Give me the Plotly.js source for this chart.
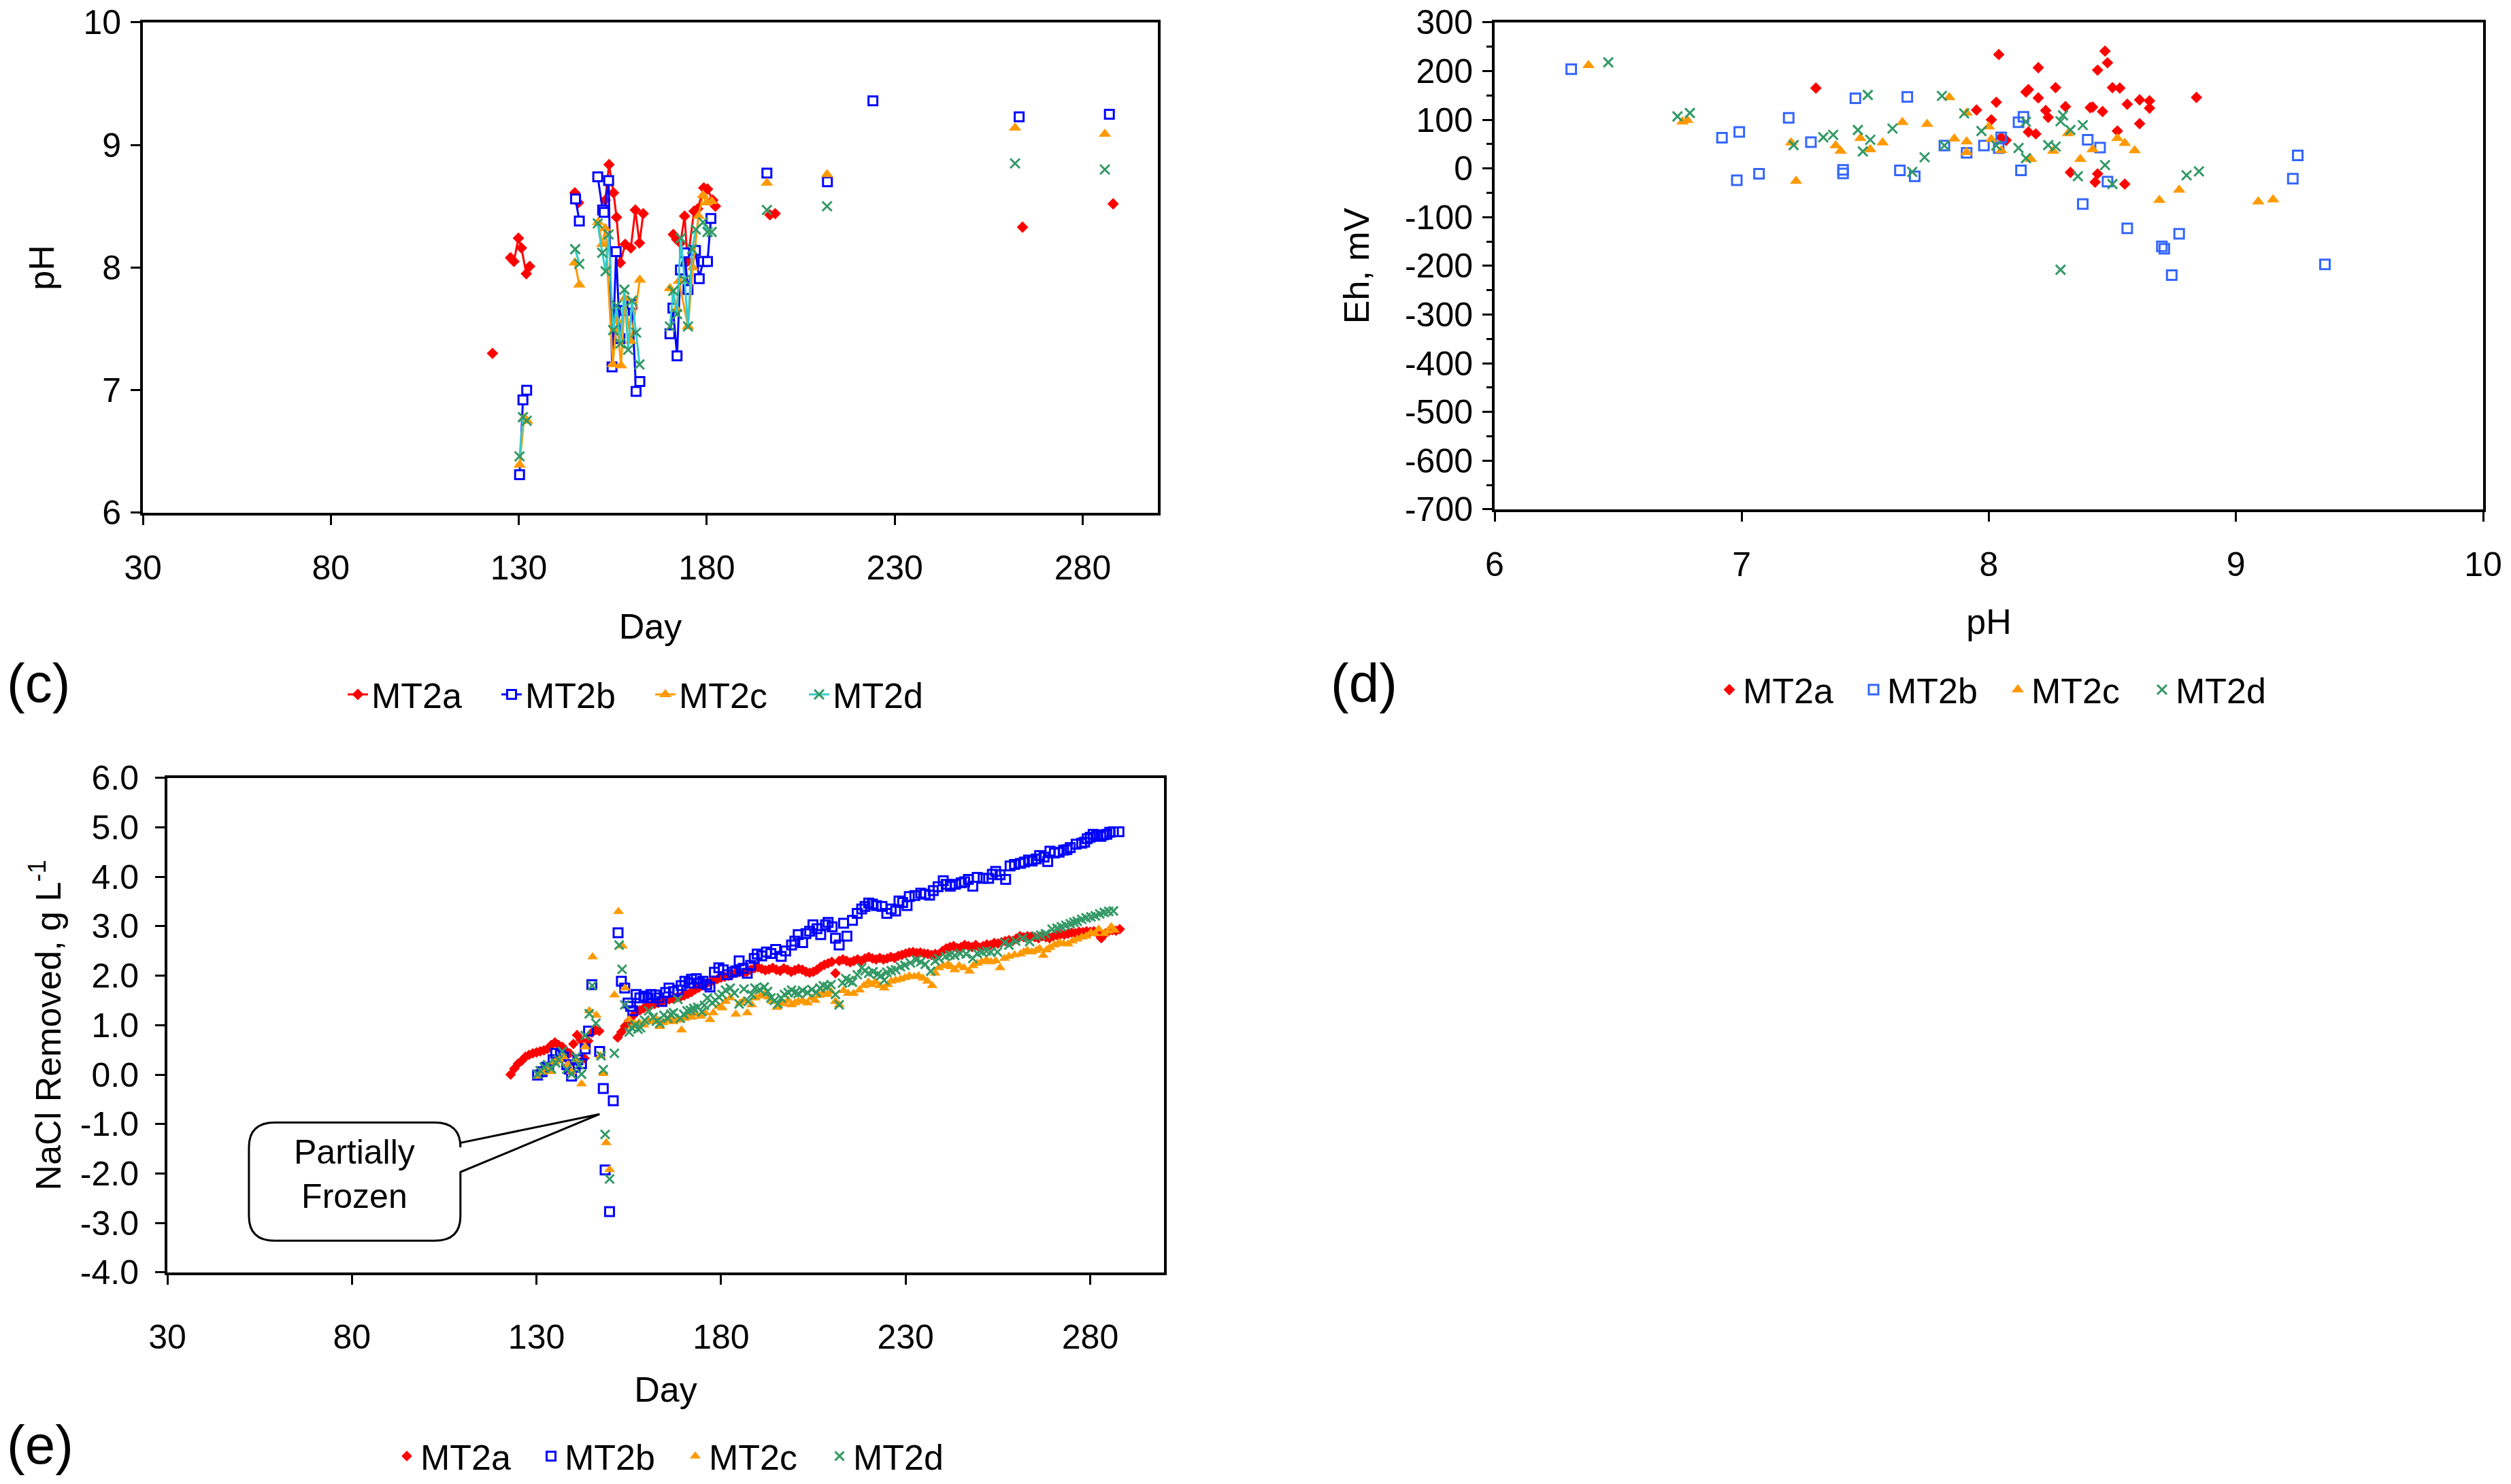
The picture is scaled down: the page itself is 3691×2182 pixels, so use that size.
<!DOCTYPE html>
<html>
<head>
<meta charset="utf-8">
<script src="https://cdn.plot.ly/plotly-3.0.1.min.js"></script>
<style>html,body{margin:0;padding:0;background:#fff}</style>
</head>
<body>
<div id="chart" style="width:3691px;height:2182px"></div>
<script>
// ---- (c) pH by day; null breaks the line between sampling runs
const phDayA = [123, null, 127.8, 128.7, 129.9, 130.7, 132.0, 132.9, null, 144.9, 145.9, null, 153.0, 154.0, 155.2, 156.0, 157.0, 158.3, 159.8, 161.0, 162.1, 163.1, null, 171.1, 172.0, 173.0, 174.1, 174.9, 176.6, 177.6, 179.2, 180.2, 181.6, 182.3, null, 196.8, 198.2, null, 264.0, null, 288.1];
const phA = [7.30, null, 8.08, 8.05, 8.24, 8.16, 7.95, 8.01, null, 8.61, 8.53, null, 8.55, 8.84, 8.61, 8.41, 8.04, 8.19, 8.16, 8.47, 8.20, 8.44, null, 8.27, 8.23, 8.20, 8.42, 8.05, 8.46, 8.48, 8.65, 8.64, 8.55, 8.50, null, 8.43, 8.44, null, 8.33, null, 8.52];
const phDayB = [130.2, 131.1, 132.1, null, 145.1, 146.1, null, 151.0, 152.3, 152.7, 153.9, 154.8, 155.9, 156.9, 158.1, 160.1, 161.2, 162.2, null, 170.2, 171.0, 172.1, 173.0, 174.1, 175.0, 177.0, 178.0, 179.0, 180.2, 181.1, null, 196.0, null, 212.1, null, 224.2, null, 263.1, null, 287.1];
const phB = [6.31, 6.92, 7.00, null, 8.56, 8.38, null, 8.74, 8.47, 8.45, 8.71, 7.19, 8.13, 7.42, 7.65, 7.70, 6.99, 7.07, null, 7.46, 7.67, 7.28, 7.98, 8.12, 7.82, 8.14, 7.91, 8.05, 8.05, 8.40, null, 8.77, null, 8.70, null, 9.36, null, 9.23, null, 9.25];
const phDayC = [130.2, 131.4, 132.2, null, 144.9, 146.1, null, 151.1, 152.2, 153.0, 155.0, 156.1, 157.2, 158.2, 159.8, 162.2, null, 170.2, 172.0, 172.6, 175.0, 176.3, 177.8, 179.0, 180.0, 181.3, null, 196.0, null, 212.0, null, 262.0, null, 285.9];
const phC = [6.39, 6.77, 6.75, null, 8.04, 7.86, null, 8.37, 8.19, 8.32, 7.21, 7.57, 7.20, 7.75, 7.40, 7.90, null, 7.83, 7.66, 7.89, 7.52, 8.00, 8.42, 8.59, 8.53, 8.54, null, 8.69, null, 8.76, null, 9.14, null, 9.09];
const phDayD = [130.2, 131.1, 132.1, null, 145.0, 146.1, null, 151.0, 152.2, 153.1, 153.9, 155.1, 156.0, 157.0, 158.1, 159.1, 160.1, 161.2, 162.1, null, 170.2, 171.1, 172.1, 173.1, 174.1, 175.0, 176.1, 177.1, 179.0, 180.2, 181.3, null, 196.0, null, 212.0, null, 262.0, null, 285.9];
const phD = [6.46, 6.78, 6.75, null, 8.15, 8.03, null, 8.36, 8.12, 7.97, 8.27, 7.49, 7.69, 7.38, 7.82, 7.33, 7.73, 7.47, 7.21, null, 7.52, 7.81, 7.62, 8.24, 7.90, 7.52, 8.15, 8.31, 8.37, 8.29, 8.29, null, 8.47, null, 8.50, null, 8.85, null, 8.80];

// ---- (d) Eh against pH
const ehPhA = [7.30, 8.04, 8.16, 8.15, 8.03, 7.95, 8.01, 8.16, 8.07, 8.05, 8.47, 8.48, 8.44, 8.20, 8.27, 8.20, 8.31, 8.42, 8.41, 8.23, 8.24, 8.46, 8.50, 8.53, 8.56, 8.61, 8.65, 8.65, 8.61, 8.84, 8.19, 8.52, 8.33, 8.44, 8.43, 8.55];
const ehA = [165, 234, 162, 157, 136, 120, 100, 75, 58, 64, 241, 217, 202, 207, 166, 145, 127, 126, 125, 119, 105, 117, 166, 165, 132, 141, 139, 124, 92, 146, 71, 77, -8, -11, -28, -32];
const ehPhB = [6.31, 6.92, 6.99, 7.19, 7.46, 7.67, 6.98, 7.07, 7.28, 7.41, 7.41, 7.64, 7.70, 7.82, 7.91, 7.98, 8.14, 8.12, 8.05, 8.04, 8.13, 8.40, 8.45, 8.48, 8.38, 8.56, 8.77, 8.70, 8.71, 8.74, 9.25, 9.23, 9.36];
const ehB = [204, 63, 75, 104, 144, 147, -24, -11, 54, -3, -10, -4, -16, 47, 32, 47, 106, 95, 64, 42, -4, 59, 43, -27, -73, -123, -134, -160, -165, -219, 27, -21, -197];
const ehPhC = [6.38, 6.76, 6.78, 7.20, 7.22, 7.38, 7.40, 7.48, 7.52, 7.57, 7.65, 7.75, 7.84, 7.86, 7.91, 7.91, 7.91, 8.00, 8.01, 8.05, 8.17, 8.26, 8.32, 8.37, 8.42, 8.52, 8.55, 8.59, 8.69, 8.77, 9.09, 9.15];
const ehC = [212, 96, 99, 53, -26, 47, 36, 62, 39, 53, 95, 91, 146, 61, 55, 33, 114, 86, 60, 37, 19, 36, 72, 19, 39, 62, 52, 37, -65, -44, -68, -64];
const ehPhD = [6.46, 6.74, 6.79, 7.21, 7.33, 7.37, 7.47, 7.51, 7.52, 7.49, 7.61, 7.74, 7.69, 7.81, 7.82, 7.90, 7.97, 8.03, 8.12, 8.15, 8.15, 8.30, 8.29, 8.33, 8.38, 8.24, 8.27, 8.47, 8.36, 8.50, 8.80, 8.85, 8.29];
const ehD = [218, 107, 114, 48, 64, 69, 79, 151, 59, 35, 82, 23, -7, 149, 47, 113, 77, 47, 42, 96, 21, 109, 97, 79, 89, 48, 45, 7, -16, -32, -14, -6, -208];
const ehTicks = [-700, -600, -500, -400, -300, -200, -100, 0, 100, 200, 300];

// ---- (e) NaCl removed by day
const naclDayA = [123, 124, 125, 126, 127, 128, 129, 130, 131, 132, 133, 134, 135, 136, 137, 138, 139, 140, 141, 142, 143, 144, 145, 146, 147,
  152, 153, 154, 155, 156, 157, 158, 159, 160, 161, 162, 163, 164, 165, 166, 167, 168, 169, 170, 171, 172, 173, 174, 175, 176, 177, 178, 179, 180,
  181, 182, 183, 184, 185, 186, 187, 188, 189, 190, 191, 192, 193, 194, 195, 196, 197, 198, 199, 200, 201, 202, 203, 204, 205, 206, 207, 208, 209, 210,
  211, 212, 213, 214, 215, 216, 217, 218, 219, 220, 221, 222, 223, 224, 225, 226, 227, 228, 229, 230, 231, 232, 233, 234, 235, 236, 237, 238, 239, 240,
  241, 242, 243, 244, 245, 246, 247, 248, 249, 250, 251, 252, 253, 254, 255, 256, 257, 258, 259, 260, 261, 262, 263, 264, 265, 266, 267, 268, 269, 270,
  271, 272, 273, 274, 275, 276, 277, 278, 279, 280, 281, 282, 283, 284, 285, 286, 287, 288];
const naclA = [0.00, 0.12, 0.22, 0.28, 0.36, 0.40, 0.43, 0.45, 0.47, 0.49, 0.52, 0.60, 0.65, 0.60, 0.56, 0.48, 0.43, 0.62, 0.80, 0.70, 0.33, 0.68, 0.85, 0.90, 0.88,
  0.75, 0.86, 0.98, 1.08, 1.18, 1.26, 1.30, 1.34, 1.38, 1.40, 1.43, 1.45, 1.48, 1.50, 1.52, 1.54, 1.56, 1.57, 1.60, 1.63, 1.67, 1.72, 1.76, 1.80, 1.84, 1.87, 1.90, 1.93, 1.96,
  1.98, 2.00, 2.03, 2.06, 2.07, 2.06, 2.08, 2.12, 2.15, 2.17, 2.14, 2.11, 2.13, 2.16, 2.12, 2.10, 2.15, 2.12, 2.08, 2.11, 2.14, 2.12, 2.08, 2.06, 2.08, 2.12, 2.18, 2.22, 2.25, 2.28,
  2.05, 2.30, 2.33, 2.30, 2.27, 2.30, 2.33, 2.30, 2.35, 2.38, 2.35, 2.33, 2.36, 2.33, 2.35, 2.38, 2.36, 2.40, 2.42, 2.45, 2.47, 2.48, 2.46, 2.47, 2.45, 2.44, 2.42, 2.44, 2.43, 2.50,
  2.55, 2.58, 2.60, 2.56, 2.58, 2.62, 2.60, 2.58, 2.62, 2.57, 2.60, 2.63, 2.62, 2.66, 2.65, 2.68, 2.70, 2.72, 2.70, 2.75, 2.80, 2.78, 2.80, 2.79, 2.78, 2.76, 2.80, 2.78, 2.76, 2.80,
  2.82, 2.84, 2.83, 2.85, 2.87, 2.86, 2.89, 2.88, 2.90, 2.89, 2.90, 2.86, 2.76, 2.85, 2.90, 2.92, 2.91, 2.94];
const naclDayB = [130.3, 131.5, 132.7, 133.3, 134.5, 135.2, 136.5, 137.3, 138.2, 138.9, 139.5, 140.5, 141.2, 142.2, 143.2, 144.1, 145.0, 147.1, 148.1, 148.6, 149.8, 150.8,
  152.1, 153.0, 153.9, 154.8, 155.5, 156.1, 157.0, 158.0, 159.1, 160.2, 161.0, 162.2, 163.2, 164.0, 165.0, 165.9, 167.1, 168.3, 169.2, 170.2, 171.3, 172.0, 173.3, 174.2, 175.1,
  176.1, 177.0, 178.2, 179.4, 180.6, 181.7, 183.1, 184.0, 184.9, 186.0, 187.1, 188.0, 189.0, 189.8, 191.0, 192.3, 193.5, 194.8, 196.3, 197.5, 199.1, 200.0, 200.9, 202.1, 203.0,
  204.0, 204.9, 206.0, 207.0, 208.3, 209.0, 210.1, 211.0, 212.0, 213.2, 214.1, 215.6, 216.9, 218.1, 219.0, 220.0, 221.0, 222.1, 223.6, 224.9, 226.1, 227.3, 228.2, 229.2, 230.4,
  231.0, 232.5, 234.1, 235.3, 236.5, 237.5, 238.8, 240.2, 241.0, 242.1, 243.5, 245.1, 246.0, 247.0, 248.2, 249.4, 251.0, 252.5, 253.5, 254.4, 255.6, 257.1, 258.3, 259.5, 261.1,
  262.2, 263.3, 264.3, 265.4, 266.3, 267.5, 268.5, 269.1, 270.3, 271.6, 272.8, 273.7, 274.6, 276.2, 277.7, 278.5, 279.2, 280.0, 280.8, 281.8, 282.9, 283.6, 284.5, 285.3, 286.3, 287.8];
const naclB = [-0.01, 0.06, 0.15, 0.13, 0.30, 0.43, 0.40, 0.36, 0.20, 0.11, -0.03, 0.15, 0.30, 0.22, 0.52, 0.88, 1.82, 0.47, -0.28, -1.93, -2.77, -0.53,
  2.87, 1.89, 1.75, 1.45, 1.38, 1.29, 1.62, 1.55, 1.59, 1.55, 1.62, 1.61, 1.55, 1.48, 1.66, 1.75, 1.68, 1.71, 1.80, 1.89, 1.85, 1.93, 1.94, 1.85, 1.89,
  1.82, 1.77, 2.07, 2.16, 2.12, 2.02, 2.07, 2.10, 2.30, 2.15, 2.05, 2.21, 2.35, 2.44, 2.40, 2.48, 2.45, 2.53, 2.39, 2.50, 2.62, 2.70, 2.83, 2.67, 2.85,
  2.90, 3.03, 2.95, 2.83, 3.03, 3.08, 2.99, 2.76, 2.62, 3.06, 2.80, 3.12, 3.26, 3.35, 3.40, 3.47, 3.45, 3.42, 3.40, 3.26, 3.35, 3.31, 3.51, 3.48, 3.42,
  3.60, 3.62, 3.67, 3.65, 3.63, 3.72, 3.80, 3.92, 3.85, 3.81, 3.85, 3.88, 3.90, 3.95, 3.81, 3.99, 3.97, 3.97, 4.05, 4.11, 4.04, 3.95, 4.22, 4.25, 4.27,
  4.30, 4.34, 4.32, 4.36, 4.43, 4.40, 4.31, 4.52, 4.48, 4.50, 4.54, 4.55, 4.59, 4.66, 4.68, 4.70, 4.77, 4.80, 4.86, 4.84, 4.82, 4.85, 4.86, 4.90, 4.91, 4.91];
const naclDayC = [130.3, 131.5, 132.5, 133.9, 135.0, 136.2, 137.3, 138.5, 139.5, 140.7, 142.2, 143.2, 144.3, 145.2, 146.2, 147.3, 148.1, 148.9, 149.8, 151.1, 152.2, 153.3,
  154.0, 155.1, 156.0, 156.7, 157.8, 159.1, 160.3, 161.6, 162.5, 163.4, 164.3, 165.3, 166.2, 167.1, 168.2, 169.3, 170.2, 171.1, 172.0, 173.2, 174.5, 175.7, 177.0, 177.9,
  179.4, 180.3, 181.2, 182.5, 184.0, 185.2, 186.2, 187.1, 188.3, 189.3, 190.5, 191.7, 192.9, 194.0, 195.1, 196.1, 197.2, 198.2, 199.1, 200.0, 200.9, 202.1, 203.4, 204.5,
  205.5, 206.6, 207.7, 208.8, 209.8, 211.0, 212.0, 213.2, 214.4, 215.9, 217.5, 218.7, 219.9, 220.8, 221.8, 223.0, 224.2, 225.2, 226.1, 227.3, 228.6, 229.8, 231.0, 232.3,
  233.5, 234.7, 235.9, 237.2, 238.0, 239.0, 240.2, 241.5, 242.3, 243.3, 244.5, 245.8, 247.3, 248.3, 249.4, 250.6, 251.9, 253.1, 254.4, 255.6, 256.8, 258.0, 259.5, 261.1,
  262.0, 263.0, 264.2, 265.4, 266.3, 267.3, 268.2, 269.1, 270.3, 271.6, 272.8, 274.0, 275.2, 276.5, 277.7, 278.9, 280.2, 281.3, 282.3, 283.8, 284.8, 285.7, 286.6];
const naclC = [-0.03, 0.05, 0.12, 0.06, 0.25, 0.30, 0.36, 0.20, 0.06, 0.30, -0.19, 0.56, 1.29, 2.38, 1.20, 0.38, 0.02, -1.38, -1.92, 1.61, 3.30, 2.60,
  1.75, 1.11, 0.98, 1.02, 1.05, 1.00, 1.10, 1.07, 1.12, 0.97, 1.05, 1.09, 1.15, 1.07, 1.10, 0.90, 1.14, 1.20, 1.16, 1.22, 1.18, 1.25, 1.11, 1.25,
  1.38, 1.35, 1.48, 1.55, 1.22, 1.45, 1.50, 1.25, 1.41, 1.55, 1.59, 1.62, 1.57, 1.48, 1.36, 1.45, 1.43, 1.50, 1.41, 1.45, 1.48, 1.50, 1.45, 1.55,
  1.50, 1.60, 1.66, 1.62, 1.68, 1.48, 1.41, 1.70, 1.64, 1.64, 1.71, 1.80, 1.87, 1.82, 1.87, 1.80, 1.75, 1.82, 1.89, 1.91, 1.93, 1.96, 2.00, 1.98,
  2.00, 1.95, 1.89, 1.80, 2.05, 2.16, 2.20, 2.23, 2.18, 2.12, 2.20, 2.16, 2.09, 2.20, 2.25, 2.28, 2.32, 2.28, 2.30, 2.16, 2.35, 2.39, 2.42, 2.44,
  2.48, 2.51, 2.48, 2.51, 2.55, 2.41, 2.52, 2.57, 2.62, 2.67, 2.65, 2.64, 2.70, 2.74, 2.78, 2.80, 2.87, 2.85, 2.94, 2.85, 2.90, 2.99, 2.92];
const naclDayD = [130.3, 131.0, 132.1, 133.0, 134.0, 135.2, 136.0, 137.0, 138.2, 139.5, 140.7, 141.5, 142.2, 143.2, 144.3, 145.1, 146.1, 147.5, 148.1, 148.6, 149.8, 151.1,
  152.4, 153.2, 153.9, 155.1, 155.8, 156.7, 157.5, 158.2, 159.3, 160.4, 161.6, 162.5, 163.4, 164.5, 165.6, 166.4, 167.1, 168.3, 169.0, 169.9, 170.8, 171.7, 172.6, 173.7,
  174.8, 175.5, 176.3, 177.6, 178.5, 179.4, 180.3, 181.2, 182.5, 183.6, 184.9, 186.2, 187.4, 188.3, 189.2, 190.5, 191.7, 192.6, 193.5, 194.5, 195.4, 196.3, 197.2, 198.2,
  199.1, 200.0, 200.9, 202.1, 203.4, 204.6, 205.8, 206.8, 207.7, 208.8, 209.8, 211.0, 212.0, 212.9, 213.8, 214.7, 215.6, 216.9, 218.1, 219.0, 220.0, 221.2, 222.4, 223.3,
  224.2, 224.9, 226.1, 227.3, 228.6, 229.8, 231.3, 232.9, 234.1, 235.3, 236.8, 238.0, 239.0, 240.8, 242.0, 243.3, 244.8, 246.4, 248.2, 249.4, 250.7, 251.9, 253.1, 254.9,
  256.8, 258.0, 259.8, 261.7, 263.6, 265.4, 266.6, 267.9, 269.7, 271.0, 272.2, 273.4, 274.6, 275.6, 276.5, 277.7, 278.9, 280.2, 281.4, 282.6, 283.8, 285.0, 286.3];
const naclD = [0.01, 0.08, 0.15, 0.20, 0.12, 0.24, 0.30, 0.47, 0.11, 0.01, 0.36, 0.20, 0.01, 0.79, 1.23, 1.80, 1.04, 0.38, 0.10, -1.21, -2.11, 0.43,
  2.62, 2.13, 1.41, 0.86, 0.95, 1.00, 0.92, 0.95, 1.10, 1.29, 1.16, 1.08, 1.04, 1.20, 1.14, 1.22, 1.25, 1.52, 1.14, 1.22, 1.29, 1.30, 1.34, 1.36,
  1.27, 1.40, 1.55, 1.45, 1.50, 1.57, 1.62, 1.71, 1.75, 1.65, 1.43, 1.73, 1.48, 1.62, 1.75, 1.72, 1.77, 1.68, 1.55, 1.50, 1.43, 1.55, 1.62, 1.66,
  1.71, 1.66, 1.64, 1.70, 1.66, 1.72, 1.66, 1.75, 1.80, 1.78, 1.82, 1.62, 1.41, 1.85, 1.94, 1.90, 1.87, 2.02, 2.16, 2.10, 2.05, 2.08, 2.03, 2.00,
  1.91, 2.07, 2.10, 2.12, 2.18, 2.21, 2.26, 2.32, 2.28, 2.23, 2.09, 2.30, 2.35, 2.39, 2.42, 2.41, 2.45, 2.44, 2.35, 2.45, 2.48, 2.50, 2.48, 2.48,
  2.67, 2.62, 2.70, 2.76, 2.69, 2.80, 2.82, 2.85, 2.94, 2.96, 2.99, 3.02, 3.05, 3.08, 3.10, 3.14, 3.17, 3.19, 3.21, 3.25, 3.28, 3.30, 3.31];
const naclTicks = [-4, -3, -2, -1, 0, 1, 2, 3, 4, 5, 6];
const dayTicks = [30, 80, 130, 180, 230, 280];
const names = ['MT2a', 'MT2b', 'MT2c', 'MT2d'];

const RED = '#FF0000', BLUE = '#0000FF', LBLUE = '#3366FF', ORANGE = '#FF9900', GREEN = '#339966', TEAL = '#33CCCC';
const FONT = 'Liberation Sans, Arial, sans-serif';

const W = 3691, H = 2182;
const px = v => v / W;
const py = v => 1 - v / H;

const marker = (symbol, size, color, fill) => ({
    symbol, size, color: fill || color,
    line: {color, width: symbol.startsWith('square') || symbol.startsWith('x') ? 3 : 0}
});

// (c) lines + markers
const phTraces = [
    {x: phDayA, y: phA, color: RED, m: marker('diamond', 13, RED)},
    {x: phDayB, y: phB, color: BLUE, m: marker('square', 13, BLUE, '#FFFFFF')},
    {x: phDayC, y: phC, color: ORANGE, m: marker('triangle-up', 16, ORANGE)},
    {x: phDayD, y: phD, color: TEAL, m: marker('x-thin-open', 14, GREEN)}
].map((t, i) => ({
    type: 'scatter', mode: 'lines+markers', name: names[i], x: t.x, y: t.y,
    xaxis: 'x', yaxis: 'y', legend: 'legend', connectgaps: false, cliponaxis: false,
    line: {color: t.color, width: 3}, marker: t.m
}));

// (d) markers only
const ehTraces = [
    {x: ehPhA, y: ehA, m: marker('diamond', 13, RED)},
    {x: ehPhB, y: ehB, m: marker('square-open', 14, LBLUE)},
    {x: ehPhC, y: ehC, m: marker('triangle-up', 16, ORANGE)},
    {x: ehPhD, y: ehD, m: marker('x-thin-open', 14, GREEN)}
].map((t, i) => ({
    type: 'scatter', mode: 'markers', name: names[i], x: t.x, y: t.y,
    xaxis: 'x2', yaxis: 'y2', legend: 'legend2', marker: t.m
}));

// (e) markers only
const naclTraces = [
    {x: naclDayA, y: naclA, m: marker('diamond', 12, RED)},
    {x: naclDayB, y: naclB, m: marker('square-open', 13, BLUE)},
    {x: naclDayC, y: naclC, m: marker('triangle-up', 14, ORANGE)},
    {x: naclDayD, y: naclD, m: marker('x-thin-open', 13, GREEN)}
].map((t, i) => ({
    type: 'scatter', mode: 'markers', name: names[i], x: t.x, y: t.y,
    xaxis: 'x3', yaxis: 'y3', legend: 'legend3', marker: t.m
}));

const tickFont = {family: FONT, size: 50, color: '#000'};
const titleFont = {family: FONT, size: 52, color: '#000'};
const axisBase = {
    showline: true, linewidth: 4, linecolor: '#000', mirror: true,
    ticks: 'outside', ticklen: 14, tickwidth: 3, tickcolor: '#000',
    showgrid: false, zeroline: false, tickfont: tickFont, fixedrange: true
};

const legendBase = {
    orientation: 'h', xanchor: 'left', yanchor: 'middle',
    font: {family: FONT, size: 52, color: '#000'}, bgcolor: 'rgba(0,0,0,0)',
    entrywidthmode: 'pixels', tracegroupgap: 0
};

const label = (text, x, y) => ({
    text, xref: 'paper', yref: 'paper', x: px(x), y: py(y), xanchor: 'left', yanchor: 'middle',
    showarrow: false, font: {family: FONT, size: 80, color: '#000'}
});

// callout box for the frozen dip, drawn on the (e) axes
const bx = {l: 52.1, r: 109.4, t: -0.97, b: -3.36, rx: 7, ry: 0.5, w1: -1.38, w2: -1.97, tipX: 147.1, tipY: -0.80};
const calloutPath = `M ${bx.l + bx.rx},${bx.t} L ${bx.r - bx.rx},${bx.t} Q ${bx.r},${bx.t} ${bx.r},${bx.t - bx.ry} ` +
    `L ${bx.r},${bx.w1} L ${bx.tipX},${bx.tipY} L ${bx.r},${bx.w2} L ${bx.r},${bx.b + bx.ry} ` +
    `Q ${bx.r},${bx.b} ${bx.r - bx.rx},${bx.b} L ${bx.l + bx.rx},${bx.b} Q ${bx.l},${bx.b} ${bx.l},${bx.b + bx.ry} ` +
    `L ${bx.l},${bx.t - bx.ry} Q ${bx.l},${bx.t} ${bx.l + bx.rx},${bx.t} Z`;

const layout = {
    width: W, height: H,
    margin: {l: 0, r: 0, t: 0, b: 0},
    paper_bgcolor: '#FFFFFF', plot_bgcolor: '#FFFFFF',
    font: {family: FONT, color: '#000'},
    showlegend: true,
    xaxis: {...axisBase, domain: [px(210), px(1702)], range: [30, 300], tickvals: dayTicks, anchor: 'y',
        ticklabelstandoff: 20, title: {text: 'Day', font: titleFont, standoff: 42}},
    yaxis: {...axisBase, domain: [py(756), py(33)], range: [6, 10], dtick: 1, anchor: 'x',
        ticklabelstandoff: 4, title: {text: 'pH', font: titleFont, standoff: 27}},
    xaxis2: {...axisBase, domain: [px(2197), px(3650)], range: [6, 10], dtick: 1, anchor: 'y2',
        ticklabelstandoff: 20, title: {text: 'pH', font: titleFont, standoff: 40}},
    yaxis2: {...axisBase, domain: [py(751), py(33)], range: [-700, 300], anchor: 'x2',
        tickvals: ehTicks, ticktext: ehTicks.map(String), ticklabelstandoff: 4,
        minor: {tickmode: 'linear', dtick: 50, ticks: 'outside', ticklen: 8, tickwidth: 3, tickcolor: '#000', showgrid: false},
        title: {text: 'Eh, mV', font: titleFont, standoff: 37}},
    xaxis3: {...axisBase, domain: [px(246), px(1711)], range: [30, 300], tickvals: dayTicks, anchor: 'y3',
        ticklabelstandoff: 34, title: {text: 'Day', font: titleFont, standoff: 33}},
    yaxis3: {...axisBase, domain: [py(1876), py(1147)], range: [-4, 6], anchor: 'x3',
        tickvals: naclTicks, ticktext: naclTicks.map(v => v.toFixed(1)), ticklabelstandoff: 14,
        title: {text: 'NaCl Removed, g L<sup>-1</sup>', font: titleFont, standoff: 13}},
    legend: {...legendBase, x: px(506), y: py(1024), entrywidth: 181},
    legend2: {...legendBase, x: px(2522), y: py(1017), entrywidth: 167},
    legend3: {...legendBase, x: px(578), y: py(2147), entrywidth: 167},
    annotations: [
        label('(c)', 8, 1007),
        label('(d)', 1954, 1007),
        label('(e)', 8, 2130),
        {text: 'Partially<br>Frozen', xref: 'x3', yref: 'y3', x: (bx.l + bx.r) / 2, y: -2.02,
            showarrow: false, font: {family: FONT, size: 50, color: '#000'}, align: 'center'}
    ],
    shapes: [
        {type: 'path', xref: 'x3', yref: 'y3', path: calloutPath, line: {color: '#000', width: 3}, fillcolor: '#FFFFFF', layer: 'above'}
    ]
};

Plotly.newPlot('chart', [...phTraces, ...ehTraces, ...naclTraces], layout, {displayModeBar: false, staticPlot: true});
</script>
</body>
</html>
